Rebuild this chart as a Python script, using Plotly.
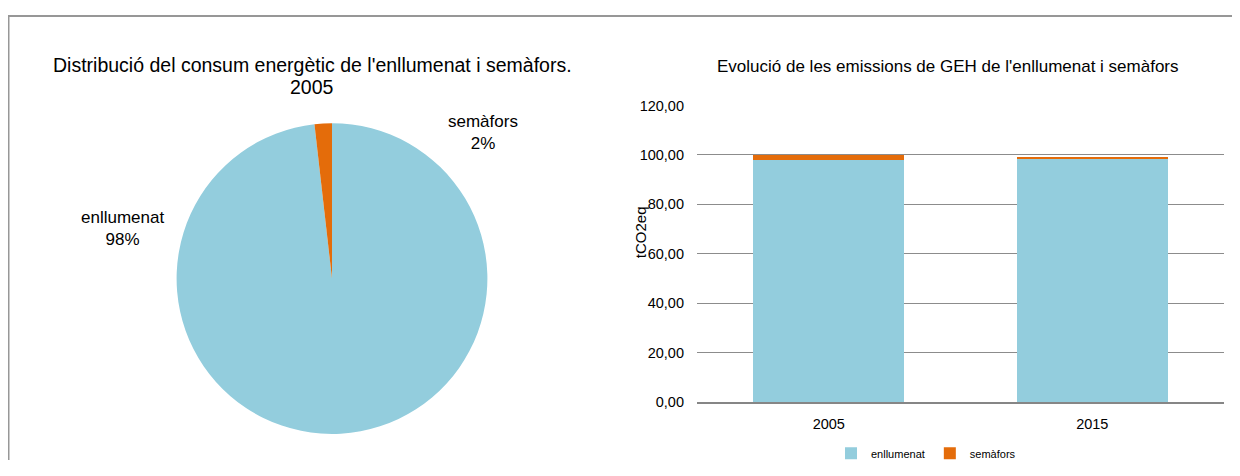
import plotly.graph_objects as go

# ---- data ----
pie_labels = ["enllumenat", "semàfors"]
pie_values = [98.2, 1.8]

bar_years = ["2005", "2015"]
enllumenat = [97.8, 98.3]
semafors = [2.1, 0.4]

pie_title_lines = ["Distribució del consum energètic de l'enllumenat i semàfors.", "2005"]
bar_title = "Evolució de les emissions de GEH de l'enllumenat i semàfors"
y_title = "tCO2eq"
y_ticks = [0, 20, 40, 60, 80, 100, 120]

BLUE = "#93CDDD"
ORANGE = "#E46C0A"
FONT = "Liberation Sans, Arial, sans-serif"

# page has an 8px body margin; keep figure inside the 1240x476 window
W, H = 1224, 460
OFF = 8


def px(x):
    return (x - OFF) / W


def py(y):
    return 1 - (y - OFF) / H


fig = go.Figure()

fig.add_trace(go.Pie(
    labels=pie_labels, values=pie_values,
    sort=False, direction="clockwise", rotation=0,
    marker=dict(colors=[BLUE, ORANGE], line=dict(width=0)),
    textinfo="none", hoverinfo="label+percent", showlegend=False,
    domain=dict(x=[px(171), px(493)], y=[py(441), py(119)]),
))

fig.add_trace(go.Bar(name="enllumenat", x=bar_years, y=enllumenat,
                     marker=dict(color=BLUE, line=dict(width=0)),
                     xaxis="x", yaxis="y"))
fig.add_trace(go.Bar(name="semàfors", x=bar_years, y=semafors,
                     marker=dict(color=ORANGE, line=dict(width=0)),
                     xaxis="x", yaxis="y"))

total = sum(pie_values)
pie_pos = {"enllumenat": (122, 228), "semàfors": (483, 129)}
annotations = []
for lab, val in zip(pie_labels, pie_values):
    x, y = pie_pos[lab]
    annotations.append(dict(
        text=f"{lab}<br>{round(100 * val / total)}%", x=px(x), y=py(y),
        xref="paper", yref="paper", showarrow=False,
        xanchor="center", yanchor="middle",
        font=dict(size=17, color="#000000", family=FONT)))

for line, yc in zip(pie_title_lines, [58.5, 81.5]):
    annotations.append(dict(
        text=line, x=px(312), y=py(yc), xref="paper", yref="paper",
        showarrow=False, xanchor="center", yanchor="middle",
        font=dict(size=19.5, color="#000000", family=FONT)))

annotations += [
    dict(text=bar_title, x=px(948), y=py(60), xref="paper", yref="paper",
         showarrow=False, xanchor="center", yanchor="middle",
         font=dict(size=17, color="#000000", family=FONT)),
    dict(text=y_title, x=px(640), y=py(232), xref="paper", yref="paper",
         showarrow=False, xanchor="center", yanchor="middle", textangle=-90,
         font=dict(size=15, color="#000000", family=FONT)),
]

fig.update_layout(
    width=W, height=H,
    margin=dict(l=0, r=0, t=0, b=0),
    paper_bgcolor="white", plot_bgcolor="white",
    separators=",.",
    barmode="stack", bargap=0.427,
    font=dict(family=FONT, color="#000000"),
    xaxis=dict(domain=[px(697), px(1224)], showgrid=False,
               showline=True, linecolor="#868686", linewidth=2,
               ticks="", ticklabelstandoff=8,
               tickfont=dict(size=14.5), fixedrange=True),
    yaxis=dict(domain=[py(408), py(100.7)], range=[0, 120],
               tickvals=y_ticks, tickformat=".2f",
               showgrid=True, gridcolor="#8C8C8C", gridwidth=1,
               zeroline=False, showline=False, ticks="",
               ticklabelstandoff=12,
               tickfont=dict(size=14.5), fixedrange=True),
    legend=dict(orientation="h", x=px(926), y=py(461),
                xanchor="center", yanchor="middle",
                font=dict(size=11, family=FONT), itemwidth=30,
                bgcolor="rgba(0,0,0,0)", traceorder="normal"),
    annotations=annotations,
    shapes=[
        dict(type="line", xref="paper", yref="paper",
             x0=0, x1=1, y0=py(8), y1=py(8),
             line=dict(color="#979797", width=2)),
        dict(type="line", xref="paper", yref="paper",
             x0=px(8.5), x1=px(8.5), y0=py(8), y1=0,
             line=dict(color="#979797", width=2)),
    ],
)

fig.write_html("out.html")
